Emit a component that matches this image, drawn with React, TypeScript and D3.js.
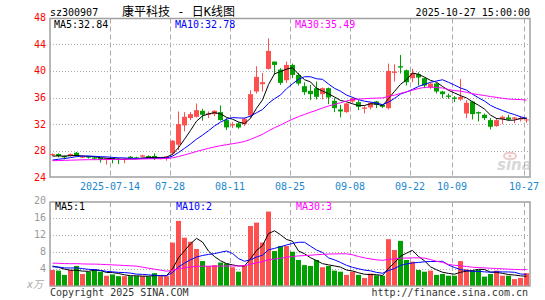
import React from "react";
import * as d3 from "d3";

// ---- data ----
const dates = [
  "06-30",
  "07-01", "07-02", "07-03", "07-04",
  "07-07", "07-08", "07-09", "07-10", "07-11",
  "07-14", "07-15", "07-16", "07-17", "07-18",
  "07-21", "07-22", "07-23", "07-24", "07-25",
  "07-28", "07-29", "07-30", "07-31", "08-01",
  "08-04", "08-05", "08-06", "08-07", "08-08",
  "08-11", "08-12", "08-13", "08-14", "08-15",
  "08-18", "08-19", "08-20", "08-21", "08-22",
  "08-25", "08-26", "08-27", "08-28", "08-29",
  "09-01", "09-02", "09-03", "09-04", "09-05",
  "09-08", "09-09", "09-10", "09-11", "09-12",
  "09-15", "09-16", "09-17", "09-18", "09-19",
  "09-22", "09-23", "09-24", "09-25", "09-26",
  "09-29", "09-30",
  "10-09", "10-10",
  "10-13", "10-14", "10-15", "10-16", "10-17",
  "10-20", "10-21", "10-22", "10-23", "10-24",
  "10-27",
];

const open = [
  27.3, 27.5, 27.2, 27.2, 27.7, 27.0, 27.1, 27.0, 26.9, 26.6,
  26.9, 26.8, 26.6, 27.1, 27.0, 27.1, 27.2, 27.2, 26.8, 26.9,
  27.6, 28.9, 31.8, 32.9, 33.1, 34.0, 33.4, 33.5, 33.8, 32.6,
  31.8, 32.1, 32.0, 33.3, 36.9, 38.0, 40.3, 41.4, 40.2, 38.6,
  40.9, 39.4, 37.7, 37.0, 37.4, 36.5, 37.4, 35.5, 34.2, 33.8,
  35.4, 35.3, 34.3, 34.5, 35.4, 34.9, 34.4, 39.7, 40.7, 40.1,
  38.9, 39.5, 38.9, 37.5, 38.1, 36.9, 36.3, 36.0, 35.7, 33.6,
  35.4, 33.8, 33.4, 32.6, 31.7, 32.8, 33.0, 32.8, 32.7, 32.6,
];
const close = [
  27.5, 27.2, 27.0, 27.5, 27.2, 27.1, 27.0, 26.8, 26.6, 26.85,
  26.7, 26.6, 26.8, 26.9, 26.9, 27.3, 27.0, 26.8, 26.9, 27.1,
  29.5, 32.0, 33.1, 33.5, 34.1, 33.4, 33.6, 34.0, 32.6, 31.5,
  32.0, 31.5, 32.8, 36.5, 39.1, 38.3, 43.0, 40.9, 38.2, 40.9,
  39.4, 38.1, 36.8, 36.5, 36.1, 37.4, 36.0, 34.4, 33.9, 35.1,
  35.9, 34.6, 34.5, 35.2, 34.9, 34.6, 40.0, 39.9, 40.5, 38.3,
  39.7, 39.0, 37.8, 38.1, 36.9, 36.5, 36.1, 35.8, 36.1, 35.2,
  33.5, 33.6, 32.9, 31.6, 32.6, 33.1, 32.7, 33.0, 32.9, 32.7,
];
const high = [
  27.6, 27.6, 27.3, 27.6, 27.8, 27.3, 27.2, 27.1, 27.0, 26.9,
  27.0, 26.9, 26.9, 27.2, 27.1, 27.4, 27.3, 27.6, 27.0, 27.2,
  29.6, 33.9, 33.8, 33.8, 35.1, 34.3, 33.9, 34.1, 34.8, 32.9,
  32.3, 32.3, 33.0, 37.1, 40.7, 39.7, 44.9, 41.4, 40.4, 41.4,
  41.1, 39.7, 38.3, 37.9, 38.4, 37.5, 37.5, 35.9, 34.9, 35.2,
  36.0, 35.6, 34.7, 35.3, 35.5, 35.0, 41.1, 41.0, 42.4, 40.2,
  40.3, 39.8, 39.0, 38.2, 38.2, 37.0, 36.6, 36.2, 38.8, 35.6,
  35.5, 33.9, 33.6, 32.9, 32.9, 33.3, 33.4, 33.1, 33.2, 33.0,
];
const low = [
  27.2, 27.0, 26.7, 27.1, 27.1, 26.9, 26.8, 26.6, 26.2, 25.9,
  26.1, 26.0, 26.1, 26.8, 26.8, 27.0, 26.9, 26.6, 26.7, 26.5,
  27.3, 28.1, 30.9, 32.6, 33.0, 32.5, 32.9, 33.2, 32.5, 31.1,
  31.4, 31.3, 31.7, 32.9, 36.6, 36.9, 40.2, 39.4, 37.9, 38.2,
  38.9, 37.8, 36.4, 35.6, 35.7, 35.7, 35.0, 33.8, 33.0, 33.7,
  35.2, 34.1, 33.6, 34.2, 34.4, 34.4, 34.2, 38.4, 39.6, 37.8,
  38.3, 37.8, 37.4, 37.3, 36.6, 35.9, 35.8, 35.3, 35.5, 32.9,
  32.7, 32.4, 32.6, 31.2, 31.6, 32.0, 32.5, 32.1, 32.4, 32.2,
];
// volume, in 万手
const volume = [
  3.65, 3.5, 2.5, 3.65, 4.6, 2.7, 3.25, 3.8, 3.25, 2.3,
  2.6, 2.2, 2.2, 2.2, 2.2, 2.2, 2.1, 2.9, 2.2, 2.2,
  10.1, 15.2, 11.25, 10.3, 8.6, 5.75, 4.6, 4.8, 5.4, 5.2,
  4.3, 3.25, 4.8, 14.0, 14.8, 10.1, 17.4, 8.1, 9.3, 9.3,
  7.95, 6.0, 4.8, 4.6, 6.0, 4.3, 4.6, 3.5, 3.25, 2.5,
  3.25, 2.5, 1.75, 2.8, 2.4, 2.3, 10.9, 8.35, 10.5, 6.0,
  5.6, 3.65, 3.25, 3.5, 2.5, 2.7, 2.3, 2.3, 5.75, 3.8,
  3.5, 3.65, 2.1, 2.7, 3.5, 2.3, 2.3, 1.5, 1.8, 2.9,
];
// sessions before 06-30 (only feed the moving averages), estimated from the MA lines
const priorCloses = [
  26.5, 26.3, 26.6, 26.4, 26.2, 26.5, 26.7, 26.4, 26.3, 26.6,
  26.5, 26.2, 26.4, 26.6, 26.5, 26.3, 26.4, 26.6, 26.5, 26.5,
  25.9, 26.1, 26.0, 25.8, 26.2, 27.0, 27.2, 27.1, 27.1,
];
const priorVolumes = [
  4.6, 4.3, 4.8, 4.2, 4.5, 4.4, 4.1, 4.6, 4.3, 4.7,
  4.2, 4.5, 4.4, 4.3, 9.6, 9.4, 9.8, 9.2, 9.5, 4.4,
  4.1, 4.5, 3.9, 4.4, 4.3, 5.0, 4.6, 4.9, 4.7,
];

const priceTicks = [48, 44, 40, 36, 32, 28, 24];
const priceGrid = [44, 40, 36, 32, 28];
const volTicks = [20, 16, 12, 8, 4];
const volGrid = [16, 12, 8, 4];
const tickDates = ["07-14", "07-28", "08-11", "08-25", "09-08", "09-22", "10-09", "10-27"];
const tickLabels = ["2025-07-14", "07-28", "08-11", "08-25", "09-08", "09-22", "10-09", "10-27"];
const maPeriods = [5, 10, 30];
const priceLegend = ["MA5:32.84", "MA10:32.78", "MA30:35.49"];
const volLegend = ["MA5:1", "MA10:2", "MA30:3"];
const symbol = "sz300907";
const title = "康平科技 - 日K线图";
const stamp = "2025-10-27 15:00:00";

// ---- styling ----
const W = 545;
const H = 300;
const L = 50;
const R = 530;
const MAIN_TOP = 18.5;
const MAIN_BOTTOM = 177;
const VOL_TOP = 202;
const VOL_BOTTOM = 286;
const UP = "#ff5050";
const DOWN = "#00a000";
const MA_COLORS = ["#000000", "#0000ff", "#ff00ff"];
const LEGEND_X = [54, 175, 295];
const MONO = "'DejaVu Sans Mono', 'Noto Sans CJK SC', monospace";
const GRID = "#aaaaaa";

function movingAverage(values: number[], prior: number[], n: number): number[] {
  const all = prior.concat(values);
  const off = prior.length;
  return values.map((_, i) => {
    const end = off + i;
    const start = Math.max(0, end - n + 1);
    return d3.mean(all.slice(start, end + 1)) as number;
  });
}

export default function App() {
  const x = d3.scaleBand<string>().domain(dates).range([L, L + 6 * dates.length - 1]).paddingInner(1 / 6).paddingOuter(0);
  const bw = x.bandwidth();
  const y = d3.scaleLinear().domain([24, 48]).range([177.3, 17.7]);
  const yv = d3.scaleLinear().domain([0, 20]).range([285.5, 200.5]);
  const cx = (i: number) => (x(dates[i]) as number) + bw / 2;

  const priceMA = maPeriods.map((n) => movingAverage(close, priorCloses, n));
  const volMA = maPeriods.map((n) => movingAverage(volume, priorVolumes, n));
  const linePrice = d3.line<number>().x((_, i) => cx(i)).y((d) => y(d));
  const lineVol = d3.line<number>().x((_, i) => cx(i)).y((d) => yv(d));

  const isUp = (i: number) => close[i] >= open[i];

  return (
    <svg width={W} height={H} style={{ position: "absolute", left: 0, top: 0, background: "#fff" }} fontFamily={MONO}>
      <rect x={0} y={0} width={W} height={H} fill="#fff" />
      {/* header */}
      <text x={50} y={15.5} fontSize={10} fill="#000">{symbol}</text>
      <text x={122} y={15.5} fontSize={12} fill="#000">{title}</text>
      <text x={530} y={15.5} fontSize={10} fill="#000" textAnchor="end">{stamp}</text>

      {/* horizontal grid */}
      {priceGrid.map((p) => (
        <line key={"pg" + p} x1={L} x2={R} y1={Math.round(y(p)) + 0.5} y2={Math.round(y(p)) + 0.5} stroke={GRID} strokeDasharray="1,2" />
      ))}
      {volGrid.map((v) => (
        <line key={"vg" + v} x1={L} x2={R} y1={Math.round(yv(v)) + 0.5} y2={Math.round(yv(v)) + 0.5} stroke={GRID} strokeDasharray="1,2" />
      ))}
      {/* vertical grid */}
      {tickDates.map((d) => {
        const gx = (x(d) as number) + 0.5;
        return (
          <g key={"vg" + d}>
            <line x1={gx} x2={gx} y1={MAIN_TOP} y2={MAIN_BOTTOM} stroke={GRID} strokeDasharray="5,3" />
            <line x1={gx} x2={gx} y1={VOL_TOP} y2={VOL_BOTTOM} stroke={GRID} strokeDasharray="5,3" />
          </g>
        );
      })}

      {/* frames */}
      <rect x={L} y={MAIN_TOP} width={R - L} height={MAIN_BOTTOM - MAIN_TOP} fill="none" stroke="#a0a0a0" strokeWidth={1.5} />
      <rect x={L} y={VOL_TOP} width={R - L} height={VOL_BOTTOM - VOL_TOP} fill="none" stroke="#a0a0a0" strokeWidth={1.5} />

      {/* sina watermark */}
      <g opacity={0.55}>
        <ellipse cx={510} cy={156} rx={6} ry={3.2} fill="none" stroke="#e59a9a" strokeWidth={2} />
        <circle cx={510} cy={156} r={1.6} fill="#e59a9a" />
        <text x={497} y={170} fontSize={15} fontStyle="italic" fontWeight="bold" fill="#b8b8b8" fontFamily="'DejaVu Sans', sans-serif">sina</text>
      </g>

      {/* price axis labels */}
      {priceTicks.map((p) => (
        <text key={"pt" + p} x={46} y={y(p)} dy="0.35em" fontSize={10} fill="#ff0000" textAnchor="end">{p}</text>
      ))}
      {/* date labels */}
      {tickDates.map((d, k) => (
        <text key={"dl" + d} x={x(d) as number} y={189.5} fontSize={10} fill="#1a87cf" textAnchor="middle">{tickLabels[k]}</text>
      ))}
      {/* volume axis labels */}
      {volTicks.map((v) => (
        <text key={"vt" + v} x={46} y={yv(v)} dy="0.35em" fontSize={10} fill="#999" textAnchor="end">{v}</text>
      ))}
      <text x={43} y={288} fontSize={10} fill="#aaa" fontStyle="italic" textAnchor="end">x万</text>

      {/* candles */}
      {dates.map((d, i) => {
        const c = isUp(i) ? UP : DOWN;
        const x0 = x(d) as number;
        const top = y(Math.max(open[i], close[i]));
        const bot = y(Math.min(open[i], close[i]));
        return (
          <g key={"c" + d}>
            <line x1={x0 + bw / 2} x2={x0 + bw / 2} y1={y(high[i])} y2={y(low[i])} stroke={c} strokeWidth={1} />
            <rect x={x0} y={top} width={bw} height={Math.max(1, bot - top)} fill={c} />
          </g>
        );
      })}
      {/* price MAs */}
      {priceMA.map((s, k) => (
        <path key={"pm" + k} d={linePrice(s) as string} fill="none" stroke={MA_COLORS[k]} strokeWidth={1} />
      ))}

      {/* volume bars */}
      {dates.map((d, i) => (
        <rect key={"v" + d} x={x(d) as number} y={yv(volume[i])} width={bw} height={yv(0) - yv(volume[i])} fill={isUp(i) ? UP : DOWN} />
      ))}
      {volMA.map((s, k) => (
        <path key={"vm" + k} d={lineVol(s) as string} fill="none" stroke={MA_COLORS[k]} strokeWidth={1} />
      ))}

      {/* legends */}
      {priceLegend.map((t, k) => (
        <text key={"pl" + k} x={LEGEND_X[k]} y={28} fontSize={10} fill={MA_COLORS[k]}>{t}</text>
      ))}
      {volLegend.map((t, k) => (
        <text key={"vl" + k} x={LEGEND_X[k] + 1} y={209.5} fontSize={10} fill={MA_COLORS[k]}>{t}</text>
      ))}

      {/* footer */}
      <text x={50} y={296} fontSize={10} fill="#333">Copyright 2025 SINA.COM</text>
      <text x={528} y={296} fontSize={10} fill="#333" textAnchor="end">http://finance.sina.com.cn</text>
    </svg>
  );
}
